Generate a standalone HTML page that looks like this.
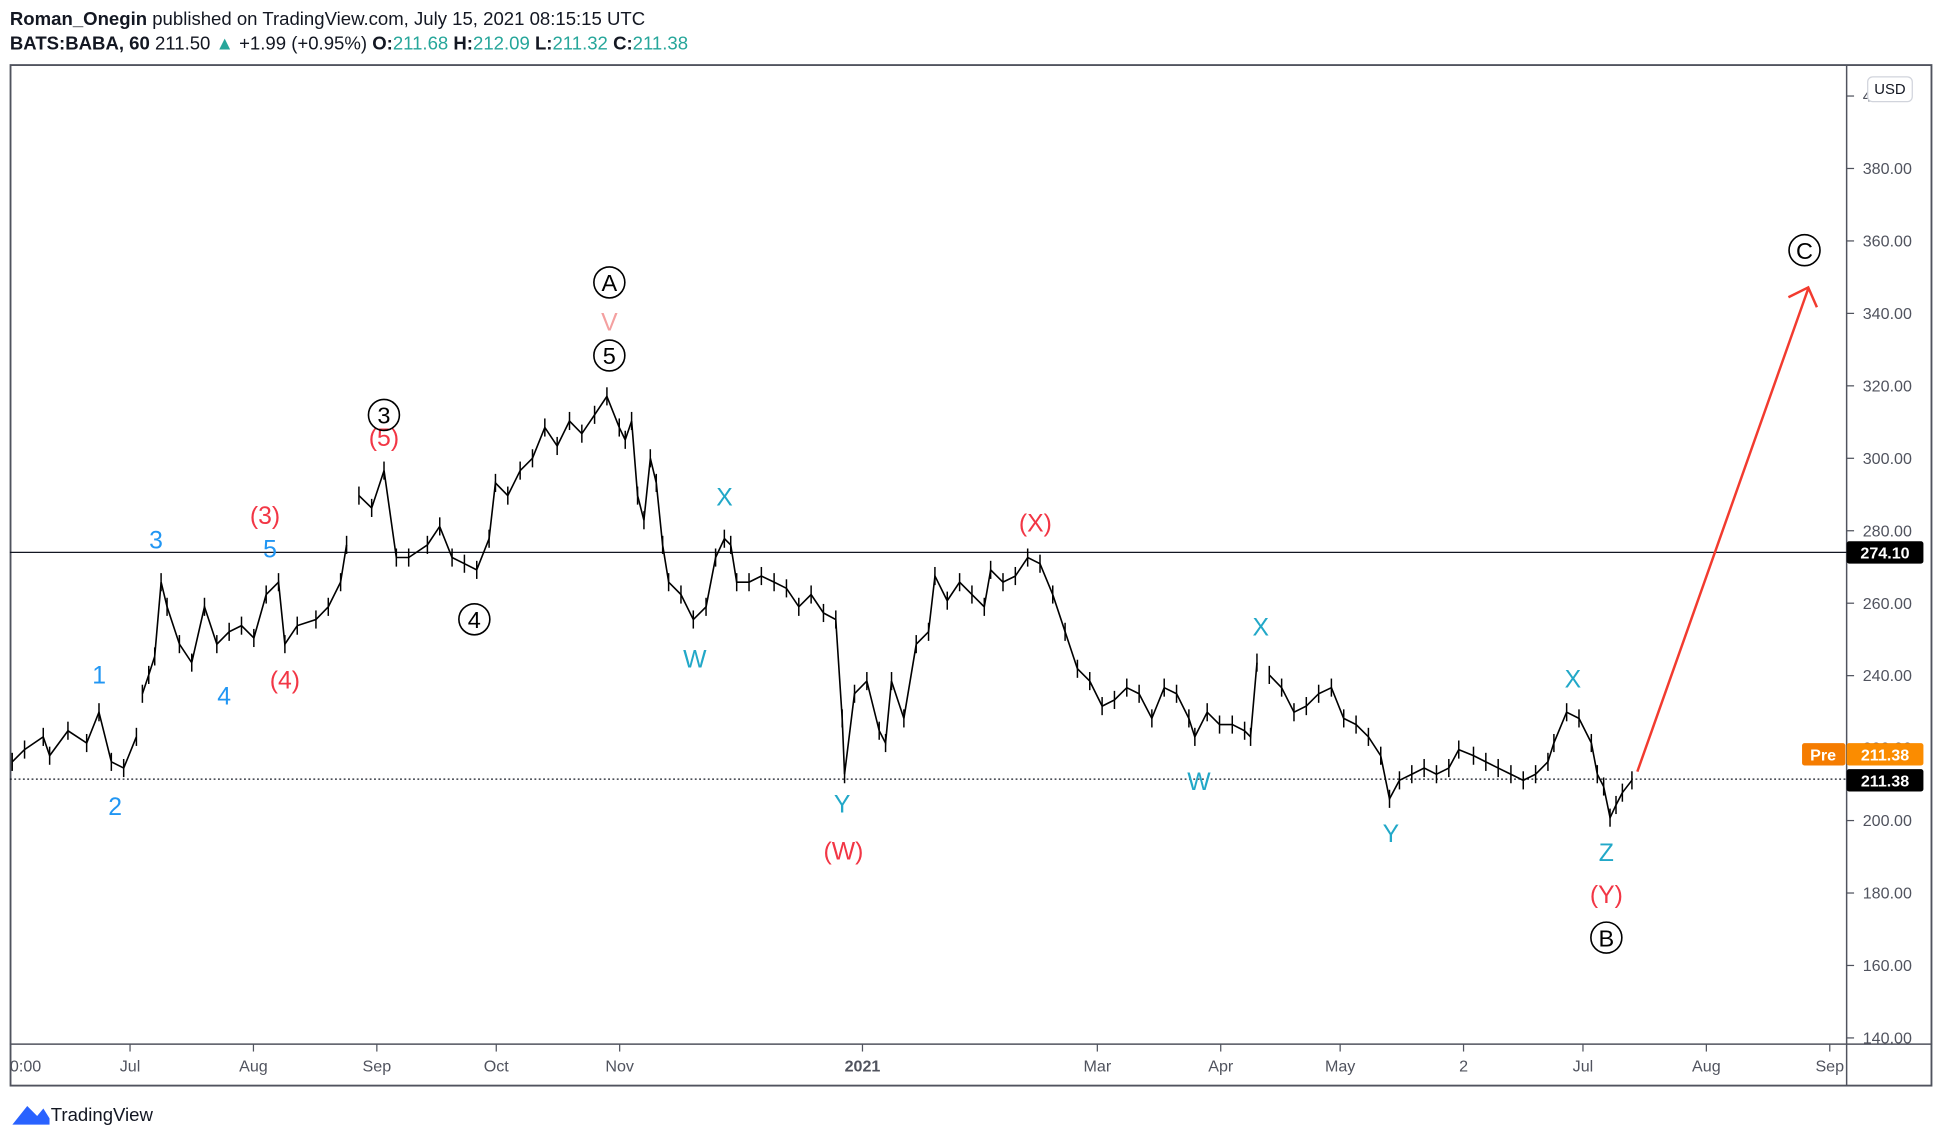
<!DOCTYPE html>
<html><head><meta charset="utf-8">
<style>
html,body{margin:0;padding:0;background:#fff;}
svg{display:block;font-family:"Liberation Sans",sans-serif;}
</style></head>
<body>
<svg id="chart" width="1942" height="1142" viewBox="0 0 1568 922" xmlns="http://www.w3.org/2000/svg">
<rect x="0" y="0" width="1568" height="922" fill="#fff"/>
<g font-size="15" fill="#131722">
<text x="8" y="20"><tspan font-weight="bold">Roman_Onegin</tspan> published on TradingView.com, July 15, 2021 08:15:15 UTC</text>
<text x="8" y="40"><tspan font-weight="bold">BATS:BABA, 60</tspan>  211.50 <tspan fill="#26a69a">▲</tspan> +1.99 (+0.95%) <tspan font-weight="bold">O:</tspan><tspan fill="#26a69a">211.68</tspan> <tspan font-weight="bold">H:</tspan><tspan fill="#26a69a">212.09</tspan> <tspan font-weight="bold">L:</tspan><tspan fill="#26a69a">211.32</tspan> <tspan font-weight="bold">C:</tspan><tspan fill="#26a69a">211.38</tspan></text>
</g>
<rect x="8.5" y="52.5" width="1551" height="824" fill="none" stroke="#50535e" stroke-width="1.5"/>
<line x1="1491" y1="52" x2="1491" y2="877" stroke="#50535e" stroke-width="1.2"/>
<line x1="8" y1="843" x2="1560" y2="843" stroke="#50535e" stroke-width="1.2"/>
<g id="yaxis"></g>
<g id="xaxis"></g>
<line x1="8" y1="446" x2="1491" y2="446" stroke="#131722" stroke-width="1"/>
<line x1="8" y1="629" x2="1491" y2="629" stroke="#131722" stroke-width="1" stroke-dasharray="1.5,2"/>
<g id="series"></g>
<g font-size="13" font-weight="bold" fill="#fff">
<rect x="1491" y="437" width="62" height="18" fill="#000" rx="2"/>
<text x="1522" y="451" text-anchor="middle">274.10</text>
<rect x="1455" y="600" width="35" height="18" fill="#f57c00" rx="2"/>
<text x="1472" y="614" text-anchor="middle">Pre</text>
<rect x="1491" y="600" width="62" height="18" fill="#fb8c00" rx="2"/>
<text x="1522" y="614" text-anchor="middle">211.38</text>
<rect x="1491" y="621" width="62" height="18" fill="#000" rx="2"/>
<text x="1522" y="635" text-anchor="middle">211.38</text>
</g>
<rect x="1508" y="62" width="36" height="20" rx="4" fill="#fff" stroke="#d1d4dc"/>
<text x="1526" y="76" font-size="12" text-anchor="middle" fill="#131722">USD</text>
<g font-size="20" text-anchor="middle">
<g fill="#2196f3">
<text x="126" y="443">3</text>
<text x="218" y="450">5</text>
<text x="80" y="552">1</text>
<text x="93" y="658">2</text>
<text x="181" y="569">4</text>
</g>
<g fill="#f23645">
<text x="214" y="423">(3)</text>
<text x="310" y="360">(5)</text>
<text x="230" y="556">(4)</text>
<text x="681" y="694">(W)</text>
<text x="836" y="429">(X)</text>
<text x="1297" y="729">(Y)</text>
</g>
<text x="492" y="267" fill="#f4a0a0">V</text>
<g fill="#22a8c8">
<text x="585" y="408">X</text>
<text x="561" y="539">W</text>
<text x="680" y="656">Y</text>
<text x="1018" y="513">X</text>
<text x="968" y="638">W</text>
<text x="1123" y="680">Y</text>
<text x="1270" y="555">X</text>
<text x="1297" y="695">Z</text>
</g>
<g fill="none" stroke="#000" stroke-width="1.3">
<circle cx="492" cy="228" r="12.5"/><circle cx="492" cy="287" r="12.5"/><circle cx="310" cy="335" r="12.5"/>
<circle cx="383" cy="500" r="12.5"/><circle cx="1297" cy="757" r="12.5"/><circle cx="1457" cy="202" r="12.5"/>
</g>
<g fill="#000" font-size="19">
<text x="492" y="235">A</text>
<text x="492" y="294">5</text>
<text x="310" y="342">3</text>
<text x="383" y="507">4</text>
<text x="1297" y="764">B</text>
<text x="1457" y="209">C</text>
</g>
</g>
<g stroke="#f23b2f" stroke-width="2" fill="none">
<line x1="1322" y1="623" x2="1460" y2="233"/>
<polyline points="1444,240 1460,232 1467,248"/>
</g>
<g>
<path d="M10,908 L22,893 L30,901 L35,895 L40,903 L40,908 Z" fill="#2962ff"/>
<text x="41" y="905" font-size="15" fill="#131722">TradingView</text>
</g>
</svg>
<script>
const days = [0.4,3.5,8.2,9.8,14.4,19.1,22.2,25.3,28.4,31.6,33.1,34.7,36.2,37.8,39.3,42.4,45.5,48.7,51.8,54.9,58.0,61.1,64.2,67.3,68.9,72.0,76.7,79.8,82.9,84.4,87.5,90.7,93.8,96.9,100.0,104.7,107.8,110.9,114.0,117.1,120.2,121.8,124.9,128.0,131.1,134.2,137.3,140.4,143.5,146.7,149.8,152.9,154.4,156.0,157.5,159.1,160.7,162.2,163.8,165.3,168.4,171.5,174.7,177.1,179.3,180.9,182.4,185.5,188.6,191.8,194.9,198.0,201.1,204.2,207.3,208.9,209.5,212.0,215.1,218.2,219.8,221.3,224.4,227.5,230.6,232.2,235.3,238.4,241.5,244.6,246.2,249.3,252.4,255.5,258.6,261.8,264.9,268.0,271.1,274.2,277.3,280.4,283.5,286.7,289.8,292.9,296.0,297.5,300.6,303.7,306.9,310.0,311.5,313.1,316.2,319.3,322.4,325.5,328.6,331.8,334.9,338.0,341.1,344.2,346.4,348.9,352.0,355.1,358.2,361.3,363.8,367.5,370.6,373.7,376.9,380.0,383.1,386.2,387.7,390.9,394.0,397.1,398.6,400.2,401.8,403.3,404.9,407.3];
const prices = [216.2,219.6,223.1,217.9,224.8,221.4,229.9,216.2,214.5,223.1,235.0,240.2,245.3,265.8,259.0,248.7,243.6,259.0,248.7,252.1,253.8,250.4,262.4,265.8,248.7,253.8,255.5,259.0,265.8,276.1,289.7,286.3,296.6,272.6,272.6,276.1,281.2,272.6,270.9,269.2,277.8,293.2,289.7,296.6,300.0,308.5,303.4,310.3,306.8,312.0,317.1,308.5,305.1,310.3,289.7,282.9,300.0,293.2,276.1,265.8,262.4,255.5,259.0,272.6,277.8,276.1,265.8,265.8,267.5,265.8,264.1,259.0,262.4,257.3,255.5,228.2,212.8,235.0,238.5,224.8,221.4,238.5,228.2,248.7,252.1,267.5,260.7,265.8,262.4,259.0,269.2,265.8,267.5,272.6,270.9,262.4,252.1,241.9,238.5,231.6,233.3,236.7,235.0,228.2,236.7,235.0,228.2,223.1,229.9,226.5,226.5,224.8,223.1,243.6,240.2,236.7,229.9,231.6,235.0,236.7,228.2,226.5,223.1,217.9,206.0,211.1,212.8,214.5,212.8,214.5,219.6,217.9,216.2,214.5,212.8,211.1,212.8,216.2,221.4,229.9,228.2,221.4,212.8,209.4,200.8,204.3,207.7,211.1];
const priceTicks = [140,160,180,200,220,240,260,280,300,320,340,360,380,400];
const timeLabels = ["0:00","Jul","Aug","Sep","Oct","Nov","2021","Mar","Apr","May","2","Jul","Aug","Sep"];
const timeDays = [-25,30,61,92,122,153,214,273,304,334,365,395,426,457];

const NS = "http://www.w3.org/2000/svg";
function xs(d){ return 105 + (d - 30) * 3.214; }
function ys(p){ return 136 + (380 - p) * 2.925; }

const yaxis = document.getElementById('yaxis');
priceTicks.forEach(v => {
  const y = ys(v);
  if (y < 55 || y > 842) return;
  const t = document.createElementNS(NS,'line');
  
  
  t.setAttribute('x1',1491); t.setAttribute('x2',1497); t.setAttribute('y1',y); t.setAttribute('y2',y);
  t.setAttribute('stroke','#50535e');
  yaxis.appendChild(t);
  const l = document.createElementNS(NS,'text');
  
  
  l.setAttribute('x',1504); l.setAttribute('y',y+4.5);
  l.setAttribute('font-size','13'); l.setAttribute('fill','#50535e');
  l.textContent = v.toFixed(2);
  yaxis.appendChild(l);
});

const xaxis = document.getElementById('xaxis');
timeLabels.forEach((lab,i) => {
  const x = xs(timeDays[i]);
  if (i > 0) {
    const t = document.createElementNS(NS,'line');
    
    
    t.setAttribute('x1',x); t.setAttribute('x2',x); t.setAttribute('y1',843); t.setAttribute('y2',849);
    t.setAttribute('stroke','#50535e');
    xaxis.appendChild(t);
  }
  const l = document.createElementNS(NS,'text');
  
  
  l.setAttribute('x', i === 0 ? 8 : x); l.setAttribute('y',865);
  l.setAttribute('text-anchor', i === 0 ? 'start' : 'middle');
  l.setAttribute('font-size','13'); l.setAttribute('fill','#50535e');
  if (lab === '2021') l.setAttribute('font-weight','bold');
  l.textContent = lab;
  xaxis.appendChild(l);
});

const series = document.getElementById('series');
const gaps = [10, 30, 114];
let seg = [];
const segs = [];
days.forEach((d,i) => {
  if (gaps.includes(i) && seg.length) { segs.push(seg); seg = []; }
  seg.push(xs(d).toFixed(1) + ',' + ys(prices[i]).toFixed(1));
});
segs.push(seg);
segs.forEach(s => {
  const pl = document.createElementNS(NS,'polyline');
  
  
  pl.setAttribute('points', s.join(' '));
  pl.setAttribute('fill','none'); pl.setAttribute('stroke','#000'); pl.setAttribute('stroke-width','1.3');
  series.appendChild(pl);
});
days.forEach((d,i) => {
  const w = document.createElementNS(NS,'line');
  
  
  const x = xs(d);
  w.setAttribute('x1',x); w.setAttribute('x2',x);
  w.setAttribute('y1',ys(prices[i]+2.5)); w.setAttribute('y2',ys(prices[i]-2.5));
  w.setAttribute('stroke','#000'); w.setAttribute('stroke-width','1.2');
  series.appendChild(w);
});
</script>
</body></html>
